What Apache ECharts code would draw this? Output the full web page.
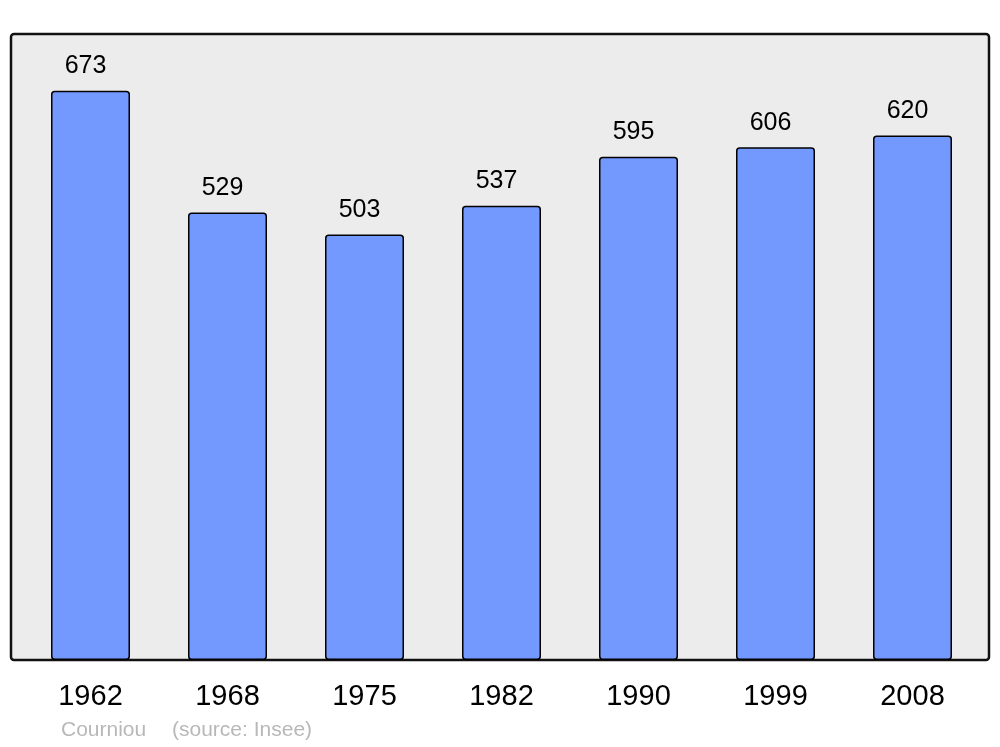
<!DOCTYPE html>
<html>
<head>
<meta charset="utf-8">
<script src="https://cdn.jsdelivr.net/npm/echarts@6/dist/echarts.min.js"></script>
<style>html,body{margin:0;padding:0;background:#fff;}#c{width:1000px;height:747px;}</style>
</head>
<body>
<div id="c"></div>
<script>
const years = ['1962', '1968', '1975', '1982', '1990', '1999', '2008'];
const population = [673, 529, 503, 537, 595, 606, 620];
const sourceName = 'Courniou';
const sourceNote = '(source: Insee)';

const FONT = 'Liberation Sans, Arial, sans-serif';
const chart = echarts.init(document.getElementById('c'), null, {renderer: 'canvas'});
chart.setOption({
  animation: false,
  textStyle: {fontFamily: FONT},
  graphic: [
    {type: 'rect', z: -10, silent: true,
     shape: {x: 11, y: 34, width: 978, height: 626, r: 3},
     style: {fill: '#ececec', stroke: '#111111', lineWidth: 2.5}},
    {type: 'text', left: 61, top: 720, silent: true,
     style: {text: sourceName, fill: '#b8b8b8', fontSize: 21, fontFamily: FONT}},
    {type: 'text', left: 172, top: 720, silent: true,
     style: {text: sourceNote, fill: '#b8b8b8', fontSize: 21, fontFamily: FONT}}
  ],
  grid: {left: 22, right: 19, top: 34, bottom: 87, containLabel: false},
  xAxis: {
    type: 'category', data: years,
    axisLine: {show: false}, axisTick: {show: false},
    axisLabel: {fontSize: 29, color: '#000', margin: 22, fontFamily: FONT}
  },
  yAxis: {type: 'value', min: 0, max: 740, show: false, splitLine: {show: false}},
  series: [{
    type: 'bar', data: population, barWidth: 79,
    itemStyle: {color: '#7399ff', borderColor: '#000', borderWidth: 1.5, borderRadius: 3},
    label: {show: true, position: 'top', distance: 12, offset: [-5, 0], fontSize: 25, color: '#000', fontFamily: FONT}
  }]
});
</script>
</body>
</html>
